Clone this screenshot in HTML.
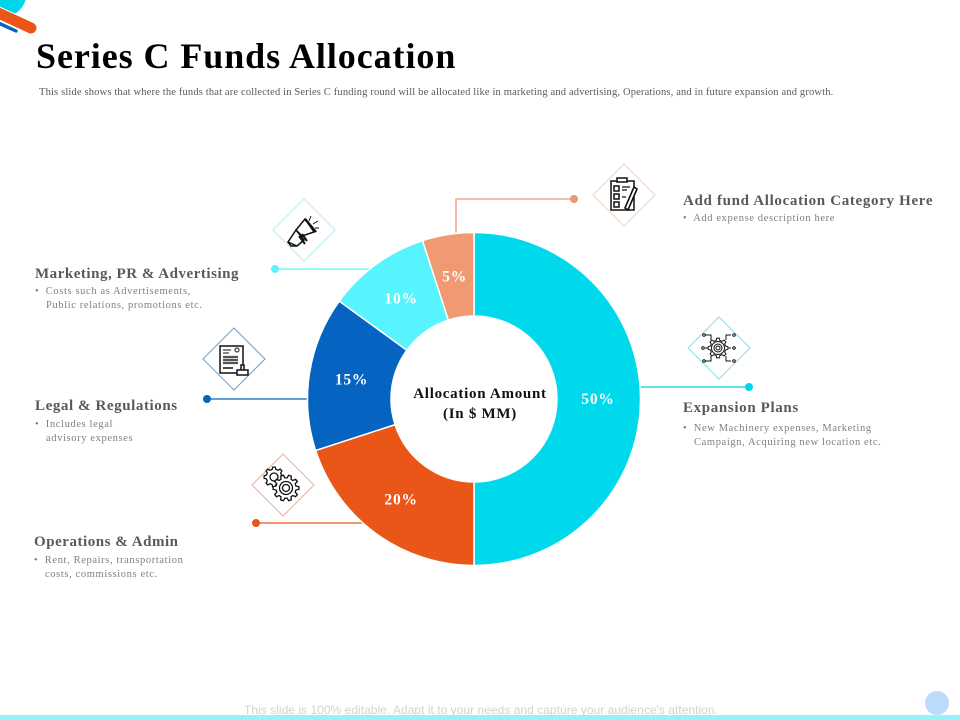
<!DOCTYPE html>
<html lang="en">
<head>
<meta charset="utf-8">
<title>Series C Funds Allocation</title>
<style>
html,body{margin:0;padding:0;background:#fff}
#slide{position:relative;width:960px;height:720px;overflow:hidden;background:#fff;font-family:"Liberation Serif",serif}
.t{position:absolute;white-space:nowrap}
.h{font-weight:bold;font-size:15px;color:#595959;letter-spacing:.64px}
.d{font-size:10.5px;color:#7f7f7f;line-height:14px;letter-spacing:.62px}
.i{display:inline-block;width:11px}
svg{position:absolute;left:0;top:0}
</style>
</head>
<body>
<div id="slide">
<svg width="960" height="720" viewBox="0 0 960 720">
  <g>
    <circle cx="5" cy="-5" r="21" fill="#00d4e8"/>
    <line x1="-4" y1="22" x2="16" y2="31" stroke="#0563c1" stroke-width="3.4" stroke-linecap="round"/>
    <line x1="-6" y1="11" x2="31" y2="28" stroke="#fff" stroke-width="13" stroke-linecap="round"/>
    <line x1="-6" y1="11" x2="31" y2="28" stroke="#e95618" stroke-width="11" stroke-linecap="round"/>
  </g>
  <rect x="0" y="715" width="960" height="5" fill="#8ff5fb"/>
  <circle cx="937" cy="703" r="12" fill="#bcdcfd"/>
  <g id="leaders" fill="none" stroke-width="1.3">
    <path d="M456 238V199H574" stroke="#ee9873"/>
    <circle cx="574" cy="199" r="4" fill="#ee9873" stroke="none"/>
    <path d="M275 269H375" stroke="#5cf3fb"/>
    <circle cx="275" cy="269" r="4" fill="#5cf3fb" stroke="none"/>
    <path d="M207 399H312" stroke="#0563c1"/>
    <circle cx="207" cy="399" r="4" fill="#0563c1" stroke="none"/>
    <path d="M256 523H366" stroke="#e95618"/>
    <circle cx="256" cy="523" r="4" fill="#e95618" stroke="none"/>
    <path d="M636 387H749" stroke="#00d4e8"/>
    <circle cx="749" cy="387" r="4" fill="#00d4e8" stroke="none"/>
  </g>
  <g id="donut"></g>
  <g fill="none" stroke-width="1">
    <path d="M304 199L335 230L304 261L273 230Z" stroke="#b5eef3"/>
    <path d="M234 328L265 359L234 390L203 359Z" stroke="#6f9cc8"/>
    <path d="M283 454L314 485L283 516L252 485Z" stroke="#e5b29c"/>
    <path d="M624 164L655 195L624 226L593 195Z" stroke="#ecd5c8"/>
    <path d="M719 317L750 348L719 379L688 348Z" stroke="#8adfe6"/>
  </g>
  <g fill="none" stroke="#111" stroke-width="1.5">
    <path d="M296 230L305 219L314 232L302 236Z"/>
    <path d="M305 219L316 232" stroke-width="2.4"/>
    <path d="M288 242L296 230L304 240L297 246Z"/>
    <path d="M288 242L291 246L297 246"/>
    <path d="M299 236L305 244M302 234L307 241" stroke-width="2"/>
    <path d="M309 221L311 216M313 224L318 221M315 228L319 228" stroke-width="1"/>
  </g>
  <g fill="none" stroke="#111" stroke-width="1.5">
    <rect x="220" y="346" width="23" height="27"/>
    <path d="M223 350H231M223 353H229" stroke-width="1"/>
    <circle cx="237" cy="350" r="2" stroke-width="1"/>
    <path d="M223 357H238M223 360H238M223 363H238" stroke="#555" stroke-width="2.2"/>
    <path d="M223 368H233"/>
    <path d="M241 372V365H244V372" fill="#fff"/>
    <rect x="237" y="370" width="11" height="5" fill="#fff"/>
  </g>
  <g id="gears-icon" fill="#fff" stroke="#111" stroke-width="1.3"></g>
  <g fill="none" stroke="#111" stroke-width="1.5">
    <rect x="611" y="181" width="23" height="29"/>
    <rect x="617" y="178" width="10" height="4" fill="#fff"/>
    <rect x="614" y="186" width="5" height="5"/><rect x="614" y="194" width="5" height="5"/><rect x="614" y="202" width="5" height="5"/>
    <path d="M622 187H630M622 190H627M622 197H626" stroke-width="1.2"/>
    <path d="M625 208L634 187L637 189L628 210Z" fill="#fff" stroke-width="1.6"/>
  </g>
  <g id="network-gear-icon" fill="none" stroke="#111" stroke-width="1">
    <circle cx="718" cy="348" r="4"/><circle cx="718" cy="348" r="2"/>
    <path d="M705 335H711V340M731 335H726V340M705 361H711V356M731 361H726V356M705 348H708M731 348H728"/>
    <circle cx="704" cy="335" r="1.3"/><circle cx="734" cy="335" r="1.3"/><circle cx="704" cy="361" r="1.3"/><circle cx="734" cy="361" r="1.3"/><circle cx="703" cy="348" r="1.3"/><circle cx="734" cy="348" r="1.3"/>
  </g>
</svg>

<div class="t" style="left:36px;top:36px;font-size:36px;font-weight:bold;color:#000;letter-spacing:.93px;line-height:40px">Series C Funds Allocation</div>
<div class="t" style="left:39px;top:86px;font-size:10.5px;color:#5a5a5a;line-height:13px;letter-spacing:.16px">This slide shows that where the funds that are collected in Series C funding round will be allocated like in marketing and advertising, Operations, and in future expansion and growth.</div>

<div class="t h" style="left:683px;top:193px;letter-spacing:.67px">Add fund Allocation Category Here</div>
<div class="t d" style="left:683px;top:212px">•&nbsp; Add expense description here</div>

<div class="t h" style="left:35px;top:266px;letter-spacing:.52px">Marketing, PR &amp; Advertising</div>
<div class="t d" style="left:35px;top:285px">•&nbsp; Costs such as Advertisements,<br><span class="i"></span>Public relations, promotions etc.</div>

<div class="t h" style="left:35px;top:398px;letter-spacing:.58px">Legal &amp; Regulations</div>
<div class="t d" style="left:35px;top:418px">•&nbsp; Includes legal<br><span class="i"></span>advisory expenses</div>

<div class="t h" style="left:34px;top:534px;letter-spacing:.53px">Operations &amp; Admin</div>
<div class="t d" style="left:34px;top:554px">•&nbsp; Rent, Repairs, transportation<br><span class="i"></span>costs, commissions etc.</div>

<div class="t h" style="left:683px;top:400px">Expansion Plans</div>
<div class="t d" style="left:683px;top:422px">•&nbsp; New Machinery expenses, Marketing<br><span class="i"></span>Campaign, Acquiring new location etc.</div>

<div class="t" style="left:400px;top:384px;width:160px;text-align:center;font-weight:bold;font-size:15px;line-height:20px;color:#111;letter-spacing:.72px">Allocation Amount<br>(In $ MM)</div>

<div class="t" style="left:244px;top:703px;font-family:'Liberation Sans',sans-serif;font-size:12px;line-height:14px;color:#d2d2d2;letter-spacing:.03px">This slide is 100% editable. Adapt it to your needs and capture your audience's attention.</div>
</div>

<script>
const categories = ["Expansion Plans", "Operations & Admin", "Legal & Regulations", "Marketing, PR & Advertising", "Add fund Allocation Category"];
const seriesValues = [50, 20, 15, 10, 5];
const sliceColors = ["#00d8ec", "#e95618", "#0563c1", "#57f3ff", "#f09a74"];
const valueLabels = ["50%", "20%", "15%", "10%", "5%"];

const NS = "http://www.w3.org/2000/svg";
const cx = 474, cy = 399, outerR = 166.5, innerR = 83, labelR = 124;
const total = seriesValues.reduce(function (a, b) { return a + b; }, 0);
function angleScale(v) { return v / total * 2 * Math.PI; }
function polarX(a, r) { return cx + r * Math.sin(a); }
function polarY(a, r) { return cy - r * Math.cos(a); }
function arcPath(a0, a1) {
  const large = a1 - a0 > Math.PI ? 1 : 0;
  const end = a1 - a0 >= 2 * Math.PI ? a1 - 0.0001 : a1;
  return "M" + polarX(a0, outerR) + " " + polarY(a0, outerR) +
    "A" + outerR + " " + outerR + " 0 " + large + " 1 " + polarX(end, outerR) + " " + polarY(end, outerR) +
    "L" + polarX(end, innerR) + " " + polarY(end, innerR) +
    "A" + innerR + " " + innerR + " 0 " + large + " 0 " + polarX(a0, innerR) + " " + polarY(a0, innerR) + "Z";
}
const donut = document.getElementById("donut");
let cumulative = 0;
seriesValues.forEach(function (v, i) {
  const a0 = angleScale(cumulative);
  const a1 = angleScale(cumulative + v);
  cumulative += v;
  const path = document.createElementNS(NS, "path");
  path.setAttribute("d", arcPath(a0, a1));
  path.setAttribute("fill", sliceColors[i]);
  path.setAttribute("stroke", "#fff");
  path.setAttribute("stroke-width", "1.5");
  
  
  const tip = document.createElementNS(NS, "title");
  tip.textContent = categories[i];
  path.appendChild(tip);
  donut.appendChild(path);
  const mid = (a0 + a1) / 2;
  const label = document.createElementNS(NS, "text");
  label.setAttribute("x", polarX(mid, labelR));
  label.setAttribute("y", polarY(mid, labelR) + 5);
  label.setAttribute("text-anchor", "middle");
  label.setAttribute("fill", "#fff");
  label.setAttribute("font-family", "Liberation Serif, serif");
  label.setAttribute("font-weight", "bold");
  label.setAttribute("font-size", "15.5");
  label.setAttribute("letter-spacing", "0.8");
  label.textContent = valueLabels[i];
  
  
  donut.appendChild(label);
});

function gearPath(x, y, r, teeth) {
  let d = "";
  const step = 2 * Math.PI / teeth;
  for (let k = 0; k < teeth; k++) {
    const a = k * step;
    const pts = [[a - step * .32, r * .78], [a - step * .17, r], [a + step * .17, r], [a + step * .32, r * .78]];
    pts.forEach(function (p, j) {
      d += (k === 0 && j === 0 ? "M" : "L") + (x + p[1] * Math.cos(p[0])).toFixed(1) + " " + (y + p[1] * Math.sin(p[0])).toFixed(1);
    });
  }
  return d + "Z";
}
function addGear(parent, x, y, r, teeth, rings) {
  const g = document.createElementNS(NS, "path");
  g.setAttribute("d", gearPath(x, y, r, teeth));
  
  
  parent.appendChild(g);
  rings.forEach(function (rr) {
    const c = document.createElementNS(NS, "circle");
    c.setAttribute("cx", x);
    c.setAttribute("cy", y);
    c.setAttribute("r", rr);
    
    
    parent.appendChild(c);
  });
}
const gearsIcon = document.getElementById("gears-icon");
addGear(gearsIcon, 274, 477, 10, 8, [4]);
addGear(gearsIcon, 286, 488, 13, 10, [6.5, 3.5]);
addGear(document.getElementById("network-gear-icon"), 718, 348, 10, 8, [6.5]);
</script>
</body>
</html>
